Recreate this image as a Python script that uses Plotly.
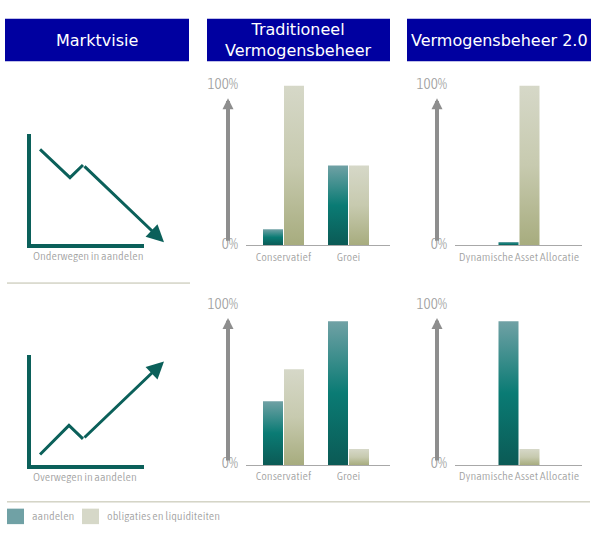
import plotly.graph_objects as go

W, H = 594, 534

# --- data -----------------------------------------------------------------
headers = ["Marktvisie", "Traditioneel<br>Vermogensbeheer", "Vermogensbeheer 2.0"]
series_names = ["aandelen", "obligaties en liquiditeiten"]
trad_categories = ["Conservatief", "Groei"]
daa_categories = ["Dynamische Asset Allocatie"]
views = ["Onderwegen in aandelen", "Overwegen in aandelen"]

# percentages per row (row 0 = onderwegen, row 1 = overwegen)
trad_aandelen = [[10, 50], [40, 90]]
trad_obligaties = [[100, 50], [60, 10]]
daa_aandelen = [[2], [90]]
daa_obligaties = [[100], [10]]

# trend icons, corner of the L = (0, 0)
trend_down_x = [0.08, 0.345, 0.46, 1.177]
trend_down_y = [0.86, 0.605, 0.719, 0.018]
trend_up_x = [0.08, 0.336, 0.46, 1.177]
trend_up_y = [0.096, 0.36, 0.237, 0.939]

# --- style ------------------------------------------------------------------
TEAL = "#0b605a"
TEAL_SCALE = [[0, "#0b5a55"], [0.5, "#0a7b74"], [1, "#70a1a5"]]
BEIGE_SCALE = [[0, "#a7ac7e"], [0.5, "#c7caaf"], [1, "#d6d8c8"]]
GRAY = "#a0a0a0"
NARROW = "Asap Condensed, Liberation Sans Narrow, sans-serif"
NAVY = "#0000a0"

UNIT = 65.0          # px per category
BW = 20 / UNIT       # bar width
GAP = 1 / UNIT


def px(x):
    return x / W


def py(y):
    return 1 - y / H


fig = go.Figure()


def add_bars(xa, ya, vals_a, vals_o):
	for c, (va, vo) in enumerate(zip(vals_a, vals_o)):
		for x0, v, scale in [(c - GAP / 2 - BW, va, TEAL_SCALE), (c + GAP / 2, vo, BEIGE_SCALE)]:
			fig.add_trace(go.Scatter(
				x=[x0, x0, x0 + BW, x0 + BW, x0],
				y=[0, v, v, 0, 0],
				fill="toself", mode="lines", line=dict(width=0),
				fillgradient=dict(type="vertical", colorscale=scale),
				xaxis=xa, yaxis=ya, hoverinfo="skip", showlegend=False))


rows = [(242, 77), (469, 304)]          # baseline, 100% in px
cols = [(246, 390, 283.5, trad_categories), (455, 582, 519, daa_categories)]

layout = {}
n = 0
for r, (base, top) in enumerate(rows):
	for ci, (left, right, c0, cats) in enumerate(cols):
		n += 1
		sfx = "" if n == 1 else str(n)
		layout["xaxis" + sfx] = dict(
			domain=[px(left), px(right)],
			range=[-(c0 - left) / UNIT, len(cats) - 1 + (right - c0 - (len(cats) - 1) * UNIT) / UNIT],
			tickvals=list(range(len(cats))), ticktext=cats,
			tickfont=dict(family=NARROW, size=12, color=GRAY, weight=300),
			showline=True, linecolor="#a8a8a8", linewidth=1,
			showgrid=False, zeroline=False, ticks="", anchor="y" + sfx, fixedrange=True)
		layout["yaxis" + sfx] = dict(
			domain=[py(base), py(top)], range=[0, 100],
			tickvals=[0, 100], ticktext=["0%", "100%"],
			tickfont=dict(family=NARROW, size=15, color=GRAY, weight=300),
			ticks="outside", ticklen=4, tickcolor="rgba(0,0,0,0)", ticklabelshift=-2,
			showgrid=False, zeroline=False, showline=False, anchor="x" + sfx, fixedrange=True)
		if ci == 0:
			add_bars("x" + sfx, "y" + sfx, trad_aandelen[r], trad_obligaties[r])
		else:
			add_bars("x" + sfx, "y" + sfx, daa_aandelen[r], daa_obligaties[r])

annotations = []
shapes = []

# gray arrows along the value axes
for base, top in rows:
	for ax_x in (228, 437):
		annotations.append(dict(
			x=px(ax_x), y=py(top + 13), xref="paper", yref="paper",
			ax=0, ay=(base - 8) - (top + 13), text="", showarrow=True,
			arrowhead=2, arrowwidth=4, arrowsize=0.55, arrowcolor="#8e8e8e", standoff=0))

# trend icons
icons = [(trend_down_x, trend_down_y, 241, views[0]), (trend_up_x, trend_up_y, 469, views[1])]
for i, (tx, ty, corner, label) in enumerate(icons):
	k = str(5 + i)
	layout["xaxis" + k] = dict(domain=[px(31), px(144)], range=[0, 1], showline=True,
		linecolor=TEAL, linewidth=4, showticklabels=False, showgrid=False,
		zeroline=False, ticks="", anchor="y" + k, fixedrange=True)
	layout["yaxis" + k] = dict(domain=[py(corner), py(corner - 114)], range=[0, 1], showline=True,
		linecolor=TEAL, linewidth=4, showticklabels=False, showgrid=False,
		zeroline=False, ticks="", anchor="x" + k, fixedrange=True)
	fig.add_trace(go.Scatter(x=tx[:3], y=ty[:3], mode="lines",
		line=dict(color=TEAL, width=3), xaxis="x" + k, yaxis="y" + k,
		hoverinfo="skip", showlegend=False))
	annotations.append(dict(
		x=tx[3], y=ty[3], ax=tx[2], ay=ty[2],
		xref="x" + k, yref="y" + k, axref="x" + k, ayref="y" + k,
		text="", showarrow=True, arrowhead=2, arrowwidth=3, arrowsize=1.15,
		arrowcolor=TEAL, standoff=0))
	annotations.append(dict(
		x=px(31), y=py(corner + 12), xref="paper", yref="paper", text=label,
		showarrow=False, xanchor="left", yanchor="middle",
		font=dict(family=NARROW, size=12, color=GRAY, weight=300)))

# headers
for (x0, x1), txt in zip([(5, 189), (207, 390), (407, 591)], headers):
	shapes.append(dict(type="rect", xref="paper", yref="paper",
		x0=px(x0), x1=px(x1), y0=py(52), y1=py(8), fillcolor=NAVY, line=dict(width=0)))
	annotations.append(dict(x=px((x0 + x1) / 2), y=py(30), xref="paper", yref="paper",
		text=txt, showarrow=False, xanchor="center", yanchor="middle",
		font=dict(family="DejaVu Sans", size=16, color="white")))

# separators
shapes.append(dict(type="line", xref="paper", yref="paper", x0=px(7), x1=px(190),
	y0=py(281), y1=py(281), line=dict(color="#bdbda8", width=1)))
shapes.append(dict(type="line", xref="paper", yref="paper", x0=px(7), x1=px(590),
	y0=py(507), y1=py(507), line=dict(color="#bdbda8", width=1)))

# legend (drawn by hand so the swatches keep their gradient)
layout["xaxis7"] = dict(domain=[0, 1], range=[0, W], visible=False, anchor="y7", fixedrange=True)
layout["yaxis7"] = dict(domain=[0, 1], range=[H, 0], visible=False, anchor="x7", fixedrange=True)
for x0, name, scale in [(7, series_names[0], TEAL_SCALE), (82, series_names[1], BEIGE_SCALE)]:
	fig.add_trace(go.Scatter(
		x=[x0, x0, x0 + 17, x0 + 17, x0], y=[530, 514, 514, 530, 530],
		fill="toself", mode="lines", line=dict(width=0),
		fillgradient=dict(type="vertical", colorscale=scale, start=530, stop=514),
		xaxis="x7", yaxis="y7", hoverinfo="skip", showlegend=False))
	annotations.append(dict(x=px(x0 + 23), y=py(522), xref="paper", yref="paper",
		text=name, showarrow=False, xanchor="left", yanchor="middle",
		font=dict(family=NARROW, size=12, color=GRAY, weight=300)))

fig.update_layout(**layout)
fig.update_layout(
	width=W, height=H, margin=dict(l=0, r=0, t=0, b=0),
	paper_bgcolor="white", plot_bgcolor="rgba(0,0,0,0)",
	showlegend=False, annotations=annotations, shapes=shapes)

# pegar el grafico arriba a la izquierda, sin margenes del body
fix_js = """
document.documentElement.style.overflow='hidden';
document.body.style.margin='0';
document.body.style.overflow='hidden';
var d = document.getElementById('{plot_id}');
d.style.position='fixed'; d.style.left='0px'; d.style.top='0px';
"""
fig.write_html("out.html", config=dict(displayModeBar=False), post_script=fix_js)
